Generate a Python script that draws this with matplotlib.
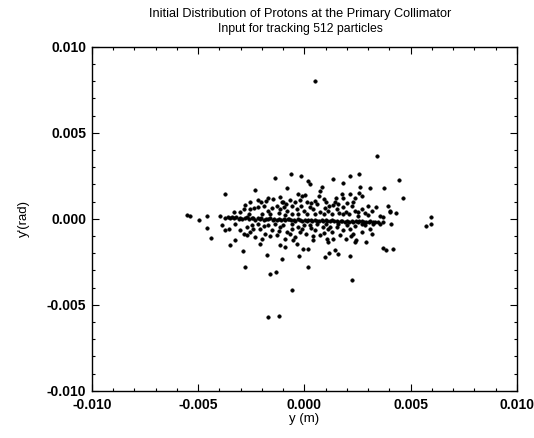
import numpy as np
import matplotlib
matplotlib.use("Agg")
import matplotlib.pyplot as plt
from matplotlib.ticker import MultipleLocator, FormatStrFormatter

plt.rcParams['font.family'] = ['Liberation Sans', 'DejaVu Sans']
plt.rcParams['axes.unicode_minus'] = False

# positions, y in mm and y' in mrad
outer_y = [0.5, 3.41, -5.5, -5.4, -4.95, -4.57, -4.57, -4.41, -3.98, 5.94, 5.94, 5.70,
           -1.38, -0.64, -0.17, 0.19, 0.27, 1.33, 2.17, 2.58, 1.80, 4.44, 4.64, 3.73,
           3.11, 2.61, 2.14, 0.81, 0.73, -0.80, -2.31, -3.75]
outer_yp = [8.0, 3.65, 0.20, 0.17, -0.06, 0.19, -0.52, -1.10, 0.15, 0.08, -0.31, -0.40,
            2.40, 2.60, 2.46, 2.21, 2.02, 2.31, 2.46, 2.60, 2.06, 2.27, 1.21, 1.77,
            1.79, 1.85, 1.46, 1.87, 1.60, 1.77, 1.67, 1.44]

low_y = [-3.5, -2.88, -2.8, -1.78, -1.62, -1.34, -1.03, -0.26, -0.06, 0.18, 0.16, 0.96,
         1.17, 1.44, 1.59, 2.17, 3.68, 3.82, 4.18, 3.16, -1.70, -1.19, -0.59, 2.22,
         2.92, -2.08, -3.25, -1.14, -0.91, -0.52, 0.42, 1.13, 2.38]
low_yp = [-1.5, -1.9, -2.8, -2.13, -3.19, -3.09, -2.32, -2.16, -1.78, -1.74, -2.82, -2.24,
          -1.97, -1.84, -2.03, -2.16, -1.68, -1.82, -1.74, -0.87, -5.70, -5.66, -4.13, -3.54,
          -1.35, -1.44, -1.25, -1.5, -1.63, -1.25, -1.25, -1.35, -1.35]

upper_y = [-2.58, -2.20, -2.05, -1.80, -1.48, -1.14, -1.06, -0.86, -0.67, -0.44, -0.28, -0.12,
           0.03, 0.14, 0.50, 0.92, 1.14, 1.44, 1.48, 1.75, 1.83, 2.30, 2.58, 2.73,
           3.0, 3.39, 3.94, 4.05, 4.30,
           -3.33, -3.02, -2.86, -2.55, -2.39, -2.16, -1.92, -1.73, -1.53, -1.30, -1.14, -0.98,
           -0.80, -0.59, -0.36, -0.17, -0.02, 0.27, 0.42, 0.61, 0.73, 0.97, 1.13, 1.33,
           1.52, 1.64, 1.83, 1.98, 2.22, 2.38, 2.53, 2.69, 2.84, 3.16, 3.55, 3.70, 4.02,
           -2.0, -1.6, -1.2, -0.6, -0.3, 0.1, 0.5, 0.9, 1.3, 1.8, 2.1, 2.5, 3.0, -2.6,
           -0.9, 0.3, -1.0, 1.0, 2.0, -0.2, 0.7, -1.7, -2.8, 1.6, 2.4]
upper_yp = [1.0, 1.12, 1.0, 1.06, 1.15, 1.25, 1.0, 0.87, 1.12, 1.0, 1.44, 1.35,
            1.38, 0.96, 1.06, 1.15, 0.77, 1.0, 1.19, 1.44, 1.19, 0.96, 1.50, 1.35,
            0.77, 0.67, 0.77, 0.48, 0.35,
            0.38, 0.38, 0.58, 0.54, 0.62, 0.67, 0.77, 0.48, 0.62, 0.77, 0.58, 0.67,
            0.48, 0.77, 0.58, 0.77, 0.48, 0.67, 0.58, 0.87, 0.38, 0.62, 0.48, 0.81,
            0.58, 0.35, 0.67, 0.42, 0.77, 0.48, 0.38, 0.58, 0.35, 0.48, 0.19, 0.10, 0.38,
            0.30, 0.25, 0.35, 0.30, 0.25, 0.30, 0.25, 0.30, 0.28, 0.25, 0.30, 0.15, 0.20, 0.25,
            0.20, 0.90, 1.00, 0.95, 0.90, 1.10, 1.30, 1.20, 0.80, 0.85, 1.20]

band_y = [-3.72, -3.61, -3.48, -3.41, -3.29, -3.22, -3.08, -3.01, -2.93, -2.79, -2.71, -2.62,
          -2.48, -2.41, -2.32, -2.18, -2.09, -2.02, -1.88, -1.81, -1.69, -1.62, -1.49, -1.42,
          -1.31, -1.19, -1.12, -0.98, -0.91, -0.79, -0.72, -0.61, -0.49, -0.42, -0.28, -0.21,
          -0.09, 0.02, 0.11, 0.19, 0.31, 0.38, 0.52, 0.59, 0.68, 0.81, 0.89, 1.02, 1.08,
          1.21, 1.29, 1.41, 1.52, 1.58, 1.71, 1.79, 1.92, 2.01, 2.09, 2.22, 2.28, 2.41,
          2.52, 2.58, 2.71, 2.79, 2.92, 3.02, 3.09, 3.21, 3.32, 3.48, 3.71]
band_yp = [0.05, 0.12, 0.02, 0.09, 0.04, 0.11, 0.01, 0.07, -0.02, 0.05, 0.08, -0.03,
           0.03, 0.06, -0.05, 0.02, -0.01, 0.04, -0.06, 0.01, -0.03, 0.03, -0.08, -0.02,
           -0.05, 0.01, -0.07, -0.03, -0.09, -0.04, -0.01, -0.08, -0.05, -0.11, -0.03, -0.07,
           -0.10, -0.05, -0.12, -0.06, -0.09, -0.13, -0.07, -0.10, -0.14, -0.08, -0.12, -0.09,
           -0.15, -0.11, -0.08, -0.14, -0.12, -0.17, -0.10, -0.14, -0.16, -0.12, -0.18, -0.13,
           -0.16, -0.11, -0.19, -0.15, -0.13, -0.18, -0.16, -0.20, -0.14, -0.19, -0.17, -0.21, -0.18]

lower_y = [-3.88, -3.72, -3.56, -3.25, -3.02, -2.86, -2.70, -2.55, -2.47, -2.31, -2.08, -2.0,
           -1.84, -1.69, -1.53, -1.30, -1.14, -0.91, -0.83, -0.59, -0.44, -0.33, -0.20, 0.08,
           0.27, 0.50, 0.73, 0.89, 1.05, 1.28, 1.36, 1.52, 1.67, 1.83, 1.98, 2.14,
           2.30, 2.45, 2.69, 2.84, 3.08, 3.23, 3.55, 4.09,
           -2.2, -1.9, -1.4, -1.0, -0.6, -0.3, 0.0, 0.3, 0.6, 1.0, 1.2, 1.6, 2.0, 2.4, 2.7,
           -2.7, -1.2, -0.1, 1.1, -1.6, 0.4, 2.2, -0.7, 0.9, -2.4]
lower_yp = [-0.38, -0.67, -0.58, -0.29, -0.67, -0.87, -0.96, -0.77, -0.38, -1.06, -0.58, -1.15,
            -0.87, -0.38, -0.67, -0.96, -0.48, -1.15, -0.77, -0.58, -1.06, -1.44, -0.77, -0.87,
            -0.38, -0.67, -0.96, -0.48, -1.15, -0.77, -1.15, -0.48, -0.96, -0.67, -1.15, -0.58,
            -0.87, -1.25, -0.77, -0.38, -0.58, -0.29, -0.29, -0.29,
            -0.30, -0.40, -0.30, -0.35, -0.30, -0.45, -0.35, -0.55, -0.30, -0.30, -0.45, -0.30,
            -0.35, -0.40, -0.30, -0.50, -0.70, -0.60, -0.60, -1.00, -1.00, -1.00, -0.90, -0.80, -0.60]

groups = [(outer_y, outer_yp), (low_y, low_yp), (upper_y, upper_yp),
          (band_y, band_yp), (lower_y, lower_yp)]

fig = plt.figure(figsize=(5.34, 4.38), dpi=100)
ax = fig.add_axes([0.172, 0.108, 0.796, 0.785])

for gx, gy in groups:
    ax.plot(np.array(gx) * 1e-3, np.array(gy) * 1e-3, 'o', ms=2.6,
            color='black', mec='black', mew=0.3, ls='none')

ax.set_xlim(-0.010, 0.010)
ax.set_ylim(-0.010, 0.010)
ax.xaxis.set_major_locator(MultipleLocator(0.005))
ax.yaxis.set_major_locator(MultipleLocator(0.005))
ax.xaxis.set_minor_locator(MultipleLocator(0.001))
ax.yaxis.set_minor_locator(MultipleLocator(0.001))
ax.xaxis.set_major_formatter(FormatStrFormatter('%.3f'))
ax.yaxis.set_major_formatter(FormatStrFormatter('%.3f'))
ax.tick_params(which='both', direction='in', top=True, right=True, width=0.8)
ax.tick_params(which='major', length=5, labelsize=10, pad=4)
ax.tick_params(axis='x', which='major', pad=5)
ax.tick_params(which='minor', length=2.5)
for lab in ax.get_xticklabels() + ax.get_yticklabels():
    lab.set_fontweight('bold')
for s in ax.spines.values():
    s.set_linewidth(1.0)

ax.set_xlabel('y (m)', fontsize=9.5, labelpad=1)
ax.set_ylabel("y'(rad)", fontsize=9.5, labelpad=12)

fig.text(0.562, 0.967, 'Initial Distribution of Protons at the Primary Collimator',
         ha='center', va='center', fontsize=9.2)
fig.text(0.562, 0.933, 'Input for tracking 512 particles',
         ha='center', va='center', fontsize=8.8)

fig.savefig('out.png', dpi=100)
